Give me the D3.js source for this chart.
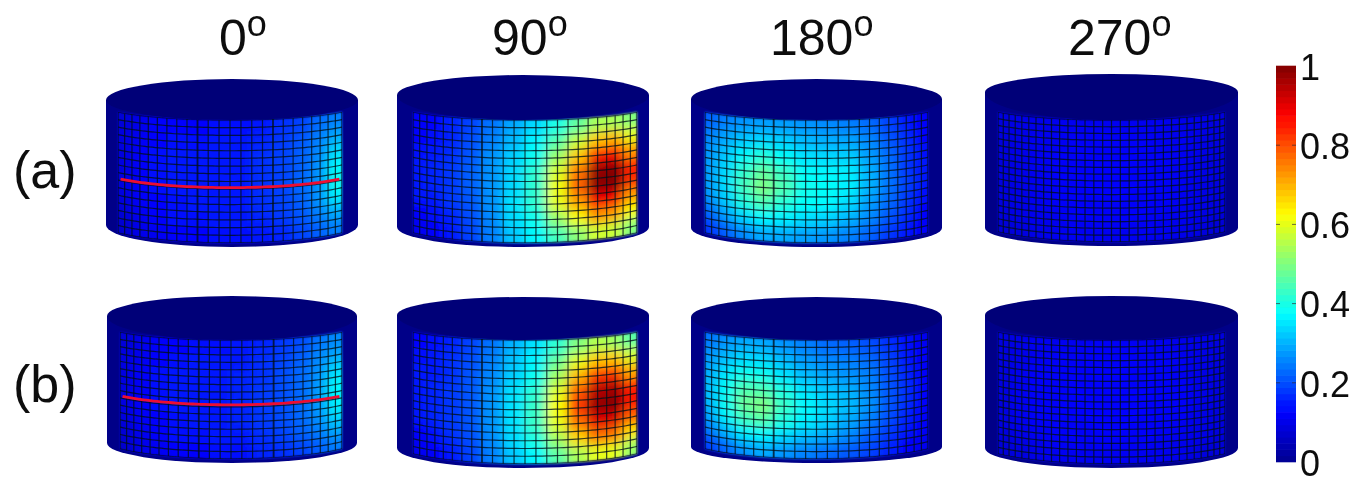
<!DOCTYPE html>
<html>
<head>
<meta charset="utf-8">
<style>
	html, body { margin: 0; padding: 0; background: #fff; overflow: hidden; }
	text { font-family: "Liberation Sans", Arial, sans-serif; fill: #111; }
</style>
<script src="https://cdn.jsdelivr.net/npm/d3@7"></script>
</head>
<body>
<svg id="chart" width="1370" height="477"></svg>
<script>
	// angle headers, row labels, colour bar ticks
	var angleLabels = ["0", "90", "180", "270"];
	var rowLabels = ["(a)", "(b)"];
	var barTicks = [0, 0.2, 0.4, 0.6, 0.8, 1];

	// surface values, 12 patches around x 8 patches down
	var a0 = [
		[.08,.10,.12,.13,.13,.14,.14,.15,.17,.19,.23,.25],
		[.09,.11,.13,.14,.14,.15,.15,.16,.18,.21,.25,.29],
		[.09,.12,.14,.15,.15,.15,.15,.17,.19,.22,.26,.34],
		[.09,.12,.14,.15,.15,.15,.15,.17,.19,.22,.27,.37],
		[.09,.12,.14,.15,.15,.15,.15,.17,.19,.23,.27,.39],
		[.09,.12,.13,.14,.15,.15,.15,.17,.19,.22,.27,.36],
		[.08,.11,.13,.14,.14,.15,.15,.16,.18,.21,.25,.30],
		[.07,.10,.11,.13,.13,.14,.14,.15,.16,.19,.22,.25]
	];
	var a90 = [
		[.12,.13,.16,.19,.24,.29,.34,.40,.47,.54,.54,.50],
		[.13,.14,.16,.20,.25,.31,.37,.46,.57,.68,.70,.60],
		[.14,.15,.17,.21,.27,.33,.39,.53,.68,.84,.87,.72],
		[.15,.16,.18,.22,.27,.34,.42,.59,.76,.98,1,.84],
		[.15,.16,.18,.22,.27,.34,.42,.61,.78,.99,1,.83],
		[.15,.15,.18,.21,.27,.35,.42,.60,.72,.88,.88,.72],
		[.13,.14,.16,.20,.26,.34,.39,.52,.62,.73,.72,.62],
		[.11,.13,.15,.19,.25,.32,.37,.44,.51,.58,.57,.50]
	];
	var a180 = [
		[.22,.25,.27,.28,.28,.27,.26,.25,.23,.19,.15,.12],
		[.25,.29,.32,.34,.33,.31,.30,.29,.26,.21,.17,.13],
		[.27,.32,.37,.41,.38,.35,.34,.33,.28,.23,.18,.14],
		[.28,.34,.42,.47,.43,.38,.37,.36,.30,.24,.18,.15],
		[.28,.35,.44,.50,.45,.39,.38,.36,.30,.24,.19,.15],
		[.27,.33,.41,.45,.41,.38,.37,.34,.28,.23,.18,.14],
		[.23,.29,.34,.37,.36,.34,.33,.30,.26,.21,.17,.13],
		[.18,.22,.26,.29,.29,.28,.27,.25,.22,.18,.15,.12]
	];
	var a270 = [
		[.09,.10,.10,.11,.11,.11,.11,.11,.11,.10,.10,.09],
		[.09,.10,.11,.11,.12,.12,.12,.12,.11,.11,.10,.09],
		[.09,.10,.11,.12,.12,.12,.12,.12,.12,.11,.10,.09],
		[.09,.10,.11,.12,.12,.13,.13,.12,.12,.11,.10,.09],
		[.09,.10,.11,.12,.12,.13,.13,.12,.12,.11,.10,.09],
		[.09,.10,.11,.12,.12,.12,.12,.12,.12,.11,.10,.09],
		[.09,.10,.11,.11,.12,.12,.12,.12,.11,.11,.10,.09],
		[.08,.09,.10,.11,.11,.11,.11,.11,.11,.10,.09,.08]
	];
	var b0 = [
		[.08,.10,.12,.13,.14,.14,.15,.16,.18,.20,.24,.26],
		[.09,.11,.13,.14,.15,.15,.15,.17,.19,.22,.26,.29],
		[.09,.12,.14,.15,.15,.15,.16,.17,.20,.23,.27,.34],
		[.09,.12,.14,.15,.15,.15,.16,.18,.20,.23,.28,.37],
		[.09,.12,.14,.15,.15,.15,.16,.18,.20,.23,.28,.37],
		[.09,.12,.13,.14,.15,.15,.16,.18,.20,.23,.27,.35],
		[.08,.11,.13,.14,.14,.15,.15,.17,.19,.22,.25,.30],
		[.07,.10,.11,.13,.13,.14,.14,.16,.17,.19,.22,.25]
	];
	var b90 = [
		[.13,.14,.16,.19,.24,.30,.35,.42,.50,.55,.53,.46],
		[.14,.15,.17,.20,.25,.32,.37,.48,.60,.68,.68,.58],
		[.15,.15,.17,.21,.26,.33,.39,.54,.70,.82,.83,.70],
		[.15,.16,.18,.21,.27,.35,.42,.60,.79,.95,.97,.84],
		[.15,.16,.18,.21,.27,.35,.43,.62,.82,.98,1,.86],
		[.15,.16,.18,.21,.27,.35,.43,.60,.76,.90,.91,.78],
		[.13,.14,.17,.20,.26,.34,.40,.53,.66,.76,.76,.65],
		[.11,.13,.15,.19,.25,.32,.37,.46,.54,.60,.60,.52]
	];
	var b180 = [
		[.24,.27,.29,.29,.27,.25,.23,.22,.20,.17,.14,.11],
		[.27,.31,.34,.34,.31,.28,.26,.25,.23,.19,.15,.12],
		[.29,.35,.39,.39,.35,.31,.29,.27,.25,.20,.16,.12],
		[.31,.38,.45,.45,.40,.35,.32,.30,.26,.21,.17,.13],
		[.31,.39,.48,.50,.43,.37,.34,.31,.27,.21,.17,.13],
		[.29,.37,.44,.46,.40,.36,.33,.29,.25,.20,.16,.13],
		[.25,.31,.36,.37,.34,.31,.29,.26,.22,.18,.15,.12],
		[.19,.23,.27,.29,.27,.25,.23,.21,.19,.16,.13,.11]
	];
	var b270 = [
		[.09,.10,.11,.11,.11,.12,.12,.11,.11,.10,.10,.09],
		[.09,.10,.11,.12,.12,.12,.12,.12,.12,.11,.10,.09],
		[.09,.11,.12,.12,.12,.13,.13,.12,.12,.11,.10,.09],
		[.09,.11,.12,.12,.13,.13,.13,.13,.12,.12,.10,.09],
		[.09,.11,.12,.12,.13,.13,.13,.13,.12,.12,.10,.09],
		[.09,.11,.12,.12,.12,.13,.13,.12,.12,.11,.10,.09],
		[.09,.10,.11,.12,.12,.12,.12,.12,.11,.11,.10,.09],
		[.08,.09,.10,.11,.11,.11,.11,.11,.11,.10,.09,.08]
	];

	// where the red scan line sits down the surface, fraction of its height
	var a0Line = .55;
	var b0Line = .545;

	// jet colormap
	var jet = d3.scaleLinear()
		.domain([0, .125, .375, .625, .875, 1])
		.range(["#00008f", "#0000ff", "#00ffff", "#ffff00", "#ff0000", "#800000"])
		.clamp(true);

	// drawing layout, one per cylinder. heavy = mesh columns that print darker
	var panels = [
		{id: "a0", values: a0, line: a0Line, x: [106, 358], mesh: [118, 342], y: [79, 100, 120, 225, 247], cols: 24, rows: 16, heavy: [9, 16]},
		{id: "a90", values: a90, x: [397, 649], mesh: [413, 637], y: [75, 95, 120, 227, 247], cols: 24, rows: 16, heavy: [8]},
		{id: "a180", values: a180, x: [691, 942], mesh: [705, 928], y: [79, 99, 120, 228, 247], cols: 24, rows: 16, heavy: [8]},
		{id: "a270", values: a270, x: [985, 1238], mesh: [998, 1225], y: [74, 92, 120, 228, 246], cols: 30, rows: 18, heavy: []},
		{id: "b0", values: b0, line: b0Line, x: [107, 357], mesh: [120, 342], y: [296, 316, 340, 443, 463], cols: 24, rows: 16, heavy: [9, 16]},
		{id: "b90", values: b90, x: [397, 649], mesh: [413, 637], y: [297, 315, 340, 448, 468], cols: 24, rows: 16, heavy: [8]},
		{id: "b180", values: b180, x: [691, 942], mesh: [705, 928], y: [297, 317, 340, 447, 463], cols: 24, rows: 16, heavy: [8]},
		{id: "b270", values: b270, x: [985, 1238], mesh: [998, 1225], y: [296, 315, 340, 448, 468], cols: 30, rows: 18, heavy: []}
	];

	var svg = d3.select("#chart");
	var defs = svg.append("defs");

	function blur(id, sd) {
		defs.append("filter").attr("id", id)
			.attr("x", "-20%").attr("y", "-20%").attr("width", "140%").attr("height", "140%")
			.append("feGaussianBlur").attr("stdDeviation", sd);
	}
	blur("smooth", 5.5);
	blur("edge", 1.2);
	blur("soft", 0.5);
	blur("softText", 0.35);

	var thetaMax = 55 * Math.PI / 180;
	var lineGen = d3.line();

	panels.forEach(function(p) {
		// u 0..1 around the cylinder, t 0..1 down it
		var angle = d3.scaleLinear().domain([0, 1]).range([-thetaMax, thetaMax]);
		var xPos = d3.scaleLinear().domain([-1, 1]).range(p.mesh);
		var edgeTop = p.y[2] - 8;
		var edgeBot = p.y[4] - 14;
		var midBot = p.y[4] - 4;

		function project(u, t) {
			var th = angle(u);
			var c = (Math.cos(th) - Math.cos(thetaMax)) / (1 - Math.cos(thetaMax));
			var top = edgeTop + (p.y[2] - edgeTop) * c;
			var bot = edgeBot + (midBot - edgeBot) * c;
			return [xPos(Math.sin(th) / Math.sin(thetaMax)), top + (bot - top) * t];
		}

		var steps = d3.range(0, 1.0001, 1 / 60);
		var clipPts = steps.map(function(u) { return project(u, 0); })
			.concat(steps.slice().reverse().map(function(u) { return project(u, 1); }));
		defs.append("clipPath").attr("id", "clip-" + p.id)
			.append("path").attr("d", lineGen(clipPts) + "Z");

		var g = svg.append("g");

		// cylinder body
		var x0 = p.x[0], x1 = p.x[1], rx = (x1 - x0) / 2;
		g.append("path")
			.attr("filter", "url(#soft)")
			.attr("d", "M" + x0 + "," + p.y[1] + "L" + x1 + "," + p.y[1] + "L" + x1 + "," + p.y[3]
				+ "A" + rx + "," + (p.y[4] - p.y[3]) + " 0 0 1 " + x0 + "," + p.y[3] + "Z")
			.attr("fill", "#000088");

		// value patches, outer ones run past the clip so the blur keeps its colour at the edge
		var nr = p.values.length, nc = p.values[0].length;
		var patches = [];
		p.values.forEach(function(row, r) {
			row.forEach(function(v, c) { patches.push({r: r, c: c, v: v}); });
		});
		g.append("g").attr("filter", "url(#edge)")
			.append("g").attr("clip-path", "url(#clip-" + p.id + ")")
			.append("g").attr("filter", "url(#smooth)")
			.selectAll("path")
			.data(patches)
			.enter()
			.append("path")
			.attr("d", function(d) {
				var u0 = d.c == 0 ? -.15 : d.c / nc;
				var u1 = d.c == nc - 1 ? 1.15 : (d.c + 1) / nc;
				var t0 = d.r == 0 ? -.25 : d.r / nr;
				var t1 = d.r == nr - 1 ? 1.25 : (d.r + 1) / nr;
				var us = d3.range(0, 6).map(function(i) { return u0 + (u1 - u0) * i / 5; });
				var pts = us.map(function(u) { return project(u, t0); })
					.concat(us.slice().reverse().map(function(u) { return project(u, t1); }));
				return lineGen(pts) + "Z";
			})
			.attr("fill", function(d) { return jet(d.v); })
			.attr("stroke", function(d) { return jet(d.v); });

		// mesh lines
		var wires = g.append("g").attr("filter", "url(#soft)")
			.append("g").attr("clip-path", "url(#clip-" + p.id + ")")
			.attr("fill", "none").attr("stroke", "#001018")
			.attr("stroke-width", 1.2).attr("stroke-opacity", .78);
		d3.range(0, p.cols + 1).forEach(function(i) {
			wires.append("path")
				.attr("stroke-width", p.heavy.indexOf(i) >= 0 ? 1.8 : null)
				.attr("d", lineGen([project(i / p.cols, 0), project(i / p.cols, 1)]));
		});
		d3.range(0, p.rows + 1).forEach(function(j) {
			wires.append("path").attr("d", lineGen(steps.map(function(u) { return project(u, j / p.rows); })));
		});

		if (p.line !== undefined) {
			g.append("path")
				.attr("filter", "url(#softText)")
				.attr("d", lineGen(steps.filter(function(u) { return u > .01 && u < .985; })
					.map(function(u) { return project(u, p.line); })))
				.attr("fill", "none").attr("stroke", "#ee1030").attr("stroke-width", 2.8);
		}

		// top lid, the lower half bulges more than the upper
		var yc = p.y[1];
		g.append("path")
			.attr("filter", "url(#soft)")
			.attr("d", "M" + x0 + "," + yc
				+ "A" + rx + "," + (yc - p.y[0]) + " 0 0 1 " + x1 + "," + yc
				+ "A" + rx + "," + (p.y[2] - yc) + " 0 0 1 " + x0 + "," + yc + "Z")
			.attr("fill", "#000078");
	});

	// headers
	var headerX = [219, 492, 770, 1068];
	var textLayer = svg.append("g").attr("filter", "url(#softText)");
	var headers = textLayer.selectAll(".header")
		.data(angleLabels)
		.enter()
		.append("text")
		.attr("class", "header")
		.attr("x", function(d, i) { return headerX[i]; })
		.attr("y", 55)
		.style("font-size", "50px")
		.text(function(d) { return d; });
	headers.append("tspan")
		.attr("dy", -19)
		.style("font-size", "36px")
		.text("o");

	var rowBaseline = [188, 402];
	textLayer.selectAll(".rowlabel")
		.data(rowLabels)
		.enter()
		.append("text")
		.attr("class", "rowlabel")
		.attr("x", 13)
		.attr("y", function(d, i) { return rowBaseline[i]; })
		.style("font-size", "52px")
		.text(function(d) { return d; });

	// colour bar
	var barY = d3.scaleLinear().domain([0, 1]).range([462, 66]);
	var levels = d3.scaleBand().domain(d3.range(64)).range([462, 66]);
	var bar = svg.append("g").attr("filter", "url(#soft)");
	bar.selectAll("rect")
		.data(d3.range(64))
		.enter()
		.append("rect")
		.attr("x", 1276)
		.attr("width", 20)
		.attr("y", function(d) { return levels(d) - .3; })
		.attr("height", levels.bandwidth() + .6)
		.attr("fill", function(d) { return jet((d + .5) / 64); });

	bar.selectAll(".barmark")
		.data(barTicks.slice(1, 5))
		.enter()
		.append("path")
		.attr("class", "barmark")
		.attr("d", function(d) {
			var y = barY(d);
			return "M1276," + y + "h4M1292," + y + "h4";
		})
		.attr("stroke", "#333")
		.attr("stroke-opacity", .7);

	var barAxis = d3.axisRight(barY)
		.tickValues(barTicks)
		.tickSize(0)
		.tickPadding(4)
		.tickFormat(function(d) { return d; });
	var axisG = textLayer.append("g")
		.attr("transform", "translate(1296,0)")
		.call(barAxis);
	axisG.select(".domain").remove();
	axisG.selectAll("text")
		.attr("dy", ".37em")
		.style("font-size", "36px")
		.style("font-family", '"Liberation Sans", Arial, sans-serif')
		.attr("fill", "#111");
</script>
</body>
</html>
